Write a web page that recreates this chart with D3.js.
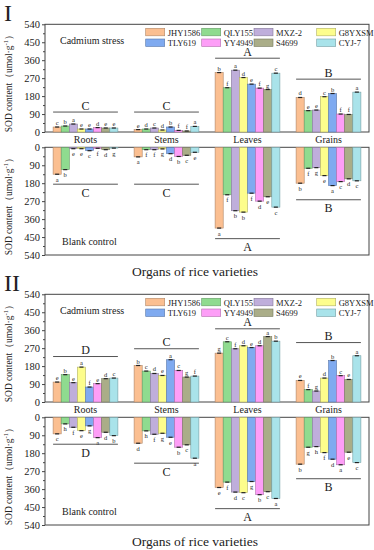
<!DOCTYPE html>
<html>
<head>
<meta charset="utf-8">
<script src="https://cdn.jsdelivr.net/npm/d3@7"></script>
<style>
  body { margin: 0; background: #fff; }
  svg { display: block; }
  text { font-family: "Liberation Serif", "Times New Roman", serif; fill: #222; }
</style>
</head>
<body>
<script>
// rice varieties (bar order inside each organ group) and organs
const varieties = ["JHY1586", "QLY155", "MXZ-2", "G8YXSM", "TLY619", "YY4949", "S4699", "CYJ-7"];
const organs = ["Roots", "Stems", "Leaves", "Grains"];
const colors = ["#fbbf91", "#8fdb8f", "#bfaedb", "#fdfd8c", "#7faaf0", "#fd9ef7", "#aaad88", "#a9e3ea"];
const yTicks = [0, 90, 180, 270, 360, 450, 540];
const yMinor = [45, 135, 225, 315, 405, 495];

// panel I, SOD content, rows = organs, cols = varieties
const cadmiumI = [
  [25, 30, 40, 15, 15, 22, 20, 20],
  [12, 15, 20, 10, 25, 8, 5, 28],
  [298, 222, 310, 273, 240, 220, 213, 295],
  [173, 107, 110, 177, 193, 90, 88, 200]
];
const cadmiumILetters = [
  ["c", "b", "a", "e", "e", "d", "e", "e"],
  ["e", "d", "c", "d", "b", "f", "f", "a"],
  ["b", "f", "a", "d", "e", "f", "g", "c"],
  ["d", "e", "e", "c", "b", "f", "f", "a"]
];
const controlI = [
  [135, 112, 7, 7, 17, 5, 12, 4],
  [48, 12, 12, 8, 32, 46, 40, 25],
  [405, 238, 318, 325, 230, 270, 248, 300],
  [180, 105, 102, 142, 192, 172, 158, 168]
];
const controlILetters = [
  ["a", "b", "e", "e", "c", "f", "d", "g"],
  ["a", "f", "f", "g", "d", "b", "c", "e"],
  ["a", "f", "b", "b", "f", "d", "e", "c"],
  ["b", "f", "g", "e", "a", "c", "d", "c"]
];

// panel II
const cadmiumII = [
  [100, 137, 97, 175, 75, 92, 117, 120],
  [183, 155, 143, 133, 212, 158, 125, 130],
  [245, 302, 267, 282, 273, 282, 328, 305],
  [108, 62, 55, 120, 208, 132, 113, 232]
];
const cadmiumIILetters = [
  ["e", "b", "e", "a", "f", "e", "d", "c"],
  ["b", "c", "d", "e", "a", "c", "g", "f"],
  ["g", "c", "f", "d", "e", "d", "a", "b"],
  ["e", "f", "g", "d", "b", "c", "e", "a"]
];
const controlII = [
  [83, 33, 50, 67, 43, 102, 75, 92],
  [130, 68, 85, 80, 100, 150, 138, 205],
  [352, 325, 375, 378, 322, 388, 373, 407],
  [235, 150, 147, 177, 210, 238, 175, 227]
];
const controlIILetters = [
  ["c", "h", "f", "e", "g", "a", "d", "b"],
  ["d", "h", "f", "g", "e", "b", "c", "a"],
  ["e", "f", "d", "c", "g", "b", "c", "a"],
  ["b", "g", "h", "f", "d", "a", "e", "c"]
];

// organ-level significance letters and the level of their bracket line
const groupLettersI = ["C", "C", "A", "B"];
const groupLettersII = ["D", "C", "A", "B"];
const groupLevelICad = [100, 100, 370, 265];
const groupLevelICtrl = [185, 185, 458, 263];
const groupLevelIICad = [228, 267, 367, 298];
const groupLevelIICtrl = [135, 230, 458, 308];

const W = 374, H = 550;
const svg = d3.select("body").append("svg").attr("width", W).attr("height", H);

const x = d3.scaleBand().domain(organs).range([45, 369]).paddingInner(0.2).paddingOuter(0.1);
const xv = d3.scaleBand().domain(varieties).range([0, x.bandwidth()]);

function drawPlot(g, y, values, letters, groupLetters, levels, up) {
  // frame
  const r = y.range();
  g.append("rect")
    .attr("x", 45).attr("y", Math.min(r[0], r[1]))
    .attr("width", 324).attr("height", Math.abs(r[1] - r[0]))
    .attr("fill", "none").attr("stroke", "#444").attr("stroke-width", 1);

  // axis
  const ax = g.append("g").attr("transform", "translate(45,0)")
    .call(d3.axisLeft(y).tickValues(yTicks).tickSize(3).tickPadding(2))
    .attr("font-family", "Liberation Serif");
  ax.select(".domain").remove();
  ax.selectAll("text").attr("font-size", 10.5).attr("fill", "#222");
  ax.selectAll("line").attr("stroke", "#444");
  const mn = g.append("g").attr("transform", "translate(45,0)")
    .call(d3.axisLeft(y).tickValues(yMinor).tickSize(2).tickFormat(""));
  mn.select(".domain").remove();
  mn.selectAll("line").attr("stroke", "#444");

  organs.forEach((o, i) => {
    const grp = g.append("g").attr("transform", `translate(${x(o)},0)`);
    const rows = values[i].map((v, j) => ({ v, j, l: letters[i][j] }));
    grp.selectAll("rect").data(rows).join("rect")
      .attr("x", d => xv(varieties[d.j]))
      .attr("width", xv.bandwidth())
      .attr("y", d => Math.min(y(0), y(d.v)))
      .attr("height", d => Math.abs(y(d.v) - y(0)))
      .attr("fill", d => colors[d.j])
      .attr("stroke", d => d3.color(colors[d.j]).darker(1))
      .attr("stroke-width", 0.6);
    // small error caps
    grp.selectAll("line.cap").data(rows).join("line").attr("class", "cap")
      .attr("x1", d => xv(varieties[d.j]) + 2)
      .attr("x2", d => xv(varieties[d.j]) + xv.bandwidth() - 2)
      .attr("y1", d => y(d.v)).attr("y2", d => y(d.v))
      .attr("stroke", "#222").attr("stroke-width", 1.2);
    grp.selectAll("text.sig").data(rows).join("text").attr("class", "sig")
      .attr("x", d => xv(varieties[d.j]) + xv.bandwidth() / 2)
      .attr("y", d => up ? y(d.v) - 2 : y(d.v) + 7.5)
      .attr("text-anchor", "middle").attr("font-size", 6.5)
      .text(d => d.l);
    // organ bracket
    const ly = y(levels[i]);
    grp.append("line").attr("x1", 0).attr("x2", x.bandwidth())
      .attr("y1", ly).attr("y2", ly).attr("stroke", "#555").attr("stroke-width", 1);
    grp.append("text").attr("x", x.bandwidth() / 2)
      .attr("y", up ? ly - 2.5 : ly + 12.5)
      .attr("text-anchor", "middle").attr("font-size", 12)
      .text(groupLetters[i]);
  });

  // y title
  const cy = (r[0] + r[1]) / 2 + 3;
  const t = g.append("text").attr("transform", `translate(12,${cy}) rotate(-90)`)
    .attr("text-anchor", "middle").attr("font-size", 9.5);
  t.append("tspan").text("SOD content（umol·g");
  t.append("tspan").attr("font-size", 6.5).attr("dy", -4).text("-1");
  t.append("tspan").attr("dy", 4).text("）");
}

function drawPanel(oy, numeral, cad, cadL, ctrl, ctrlL, gl, lvCad, lvCtrl) {
  const g = svg.append("g");
  const yTop = d3.scaleLinear().domain([0, 540]).range([oy + 132, oy + 24.3]);
  const yBot = d3.scaleLinear().domain([0, 540]).range([oy + 147.3, oy + 255]);

  drawPlot(g, yTop, cad, cadL, gl, lvCad, true);
  drawPlot(g, yBot, ctrl, ctrlL, gl, lvCtrl, false);

  // organ names between the two plots
  g.selectAll("text.organ").data(organs).join("text").attr("class", "organ")
    .attr("x", d => x(d) + x.bandwidth() / 2).attr("y", oy + 143)
    .attr("text-anchor", "middle").attr("font-size", 10).text(d => d);

  g.append("text").attr("x", 60).attr("y", oy + 44).attr("font-size", 10).text("Cadmium stress");
  g.append("text").attr("x", 62).attr("y", oy + 245).attr("font-size", 10).text("Blank control");

  // legend
  const colX = [145.7, 201.7, 254, 316.7];
  const leg = g.selectAll("g.leg").data(varieties).join("g").attr("class", "leg")
    .attr("transform", (d, i) => `translate(${colX[i % 4]},${oy + 28.3 + Math.floor(i / 4) * 10.7})`);
  leg.append("rect").attr("width", 19).attr("height", 7.5)
    .attr("fill", (d, i) => colors[i]).attr("stroke", (d, i) => d3.color(colors[i]).darker(1)).attr("stroke-width", 0.6);
  leg.append("text").attr("x", 22).attr("y", 7.2).attr("font-size", 8.5).text(d => d);

  g.append("text").attr("x", 195).attr("y", oy + 276).attr("text-anchor", "middle")
    .attr("font-size", 13.5).text("Organs of rice varieties");
  g.append("text").attr("x", 4).attr("y", oy + 21).attr("font-size", 24).text(numeral);
}

drawPanel(0, "I", cadmiumI, cadmiumILetters, controlI, controlILetters, groupLettersI, groupLevelICad, groupLevelICtrl);
drawPanel(270, "II", cadmiumII, cadmiumIILetters, controlII, controlIILetters, groupLettersII, groupLevelIICad, groupLevelIICtrl);
</script>
</body>
</html>
